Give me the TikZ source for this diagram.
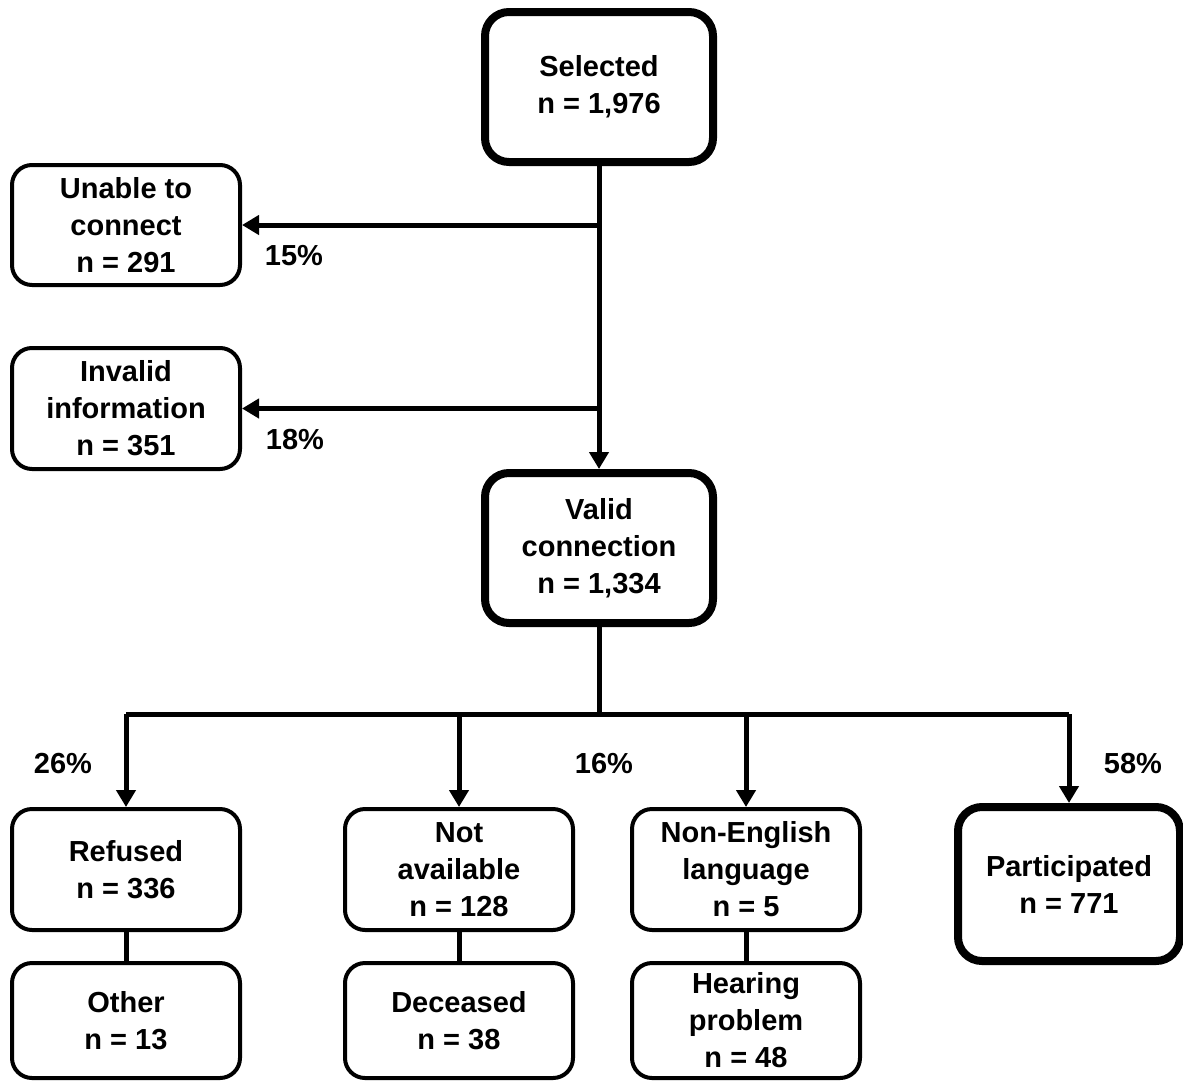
\documentclass[tikz,border=0pt]{standalone}
\usepackage{fontspec}
\setmainfont{Liberation Sans}
\usetikzlibrary{arrows.meta,positioning}

\tikzset{
  box/.style={draw, line width=2pt, rounded corners=10pt, align=center,
    inner sep=0pt, minimum width=114pt, font=\bfseries\fontsize{14.5}{18.5}\selectfont},
  bigbox/.style={box, line width=4pt, rounded corners=12pt},
  link/.style={line width=2.5pt},
  arrow/.style={link, -{Triangle[length=8.5pt,width=9.5pt]}},
  pct/.style={font=\bfseries\fontsize{14.5}{18.5}\selectfont}
}

\begin{document}
\begin{tikzpicture}[x=0.5pt,y=-0.5pt]
    \useasboundingbox (0,0) rectangle (1183,1082);

    % top of the chart
    \node[bigbox, minimum height=75pt] (sel) at (599,87) {Selected\\n = 1,976};
    \node[box, minimum height=60pt] (unable) at (126,225) {Unable to\\connect\\n = 291};
    \node[box, minimum height=60.5pt] (invalid) at (126,408.5) {Invalid\\information\\n = 351};
    \node[bigbox, minimum height=75pt] (valid) at (599,548) {Valid\\connection\\n = 1,334};

    % outcomes
    \node[box, minimum height=60.5pt] (refused) at (126,869.5) {Refused\\n = 336};
    \node[box, minimum height=60.5pt] (notavail) at (459,869.5) {Not\\available\\n = 128};
    \node[box, minimum height=60.5pt] (nonengl) at (746,869.5) {Non-English\\language\\n = 5};
    \node[bigbox, minimum width=111pt, minimum height=77pt] (part) at (1069,884) {Participated\\n = 771};

    \node[box, minimum height=57.5pt] (other) at (126,1020.5) {Other\\n = 13};
    \node[box, minimum height=57.5pt] (deceased) at (459,1020.5) {Deceased\\n = 38};
    \node[box, minimum height=57.5pt] (hearing) at (746,1020.5) {Hearing\\problem\\n = 48};

    % percentages
    \node[pct] (p15) at (294,256) {15\%};
    \node[pct] (p18) at (295,440) {18\%};
    \node[pct] (p26) at (63,764) {26\%};
    \node[pct] (p16) at (604,764) {16\%};
    \node[pct] (p58) at (1133,764) {58\%};

    \coordinate (bus) at (599,714);

    \draw[arrow] (sel.south) -- (valid.north);
    \draw[arrow] (unable.east -| sel.south) -- (unable.east);
    \draw[arrow] (invalid.east -| sel.south) -- (invalid.east);

    \draw[link] (valid.south) -- (bus);
    \draw[link] (refused.north |- bus) -- (part.north |- bus);
    \foreach \b in {refused,notavail,nonengl,part}
      \draw[arrow] (\b.north |- bus) -- (\b.north);

    \draw[link] (refused) -- (other);
    \draw[link] (notavail) -- (deceased);
    \draw[link] (nonengl) -- (hearing);
\end{tikzpicture}
\end{document}
